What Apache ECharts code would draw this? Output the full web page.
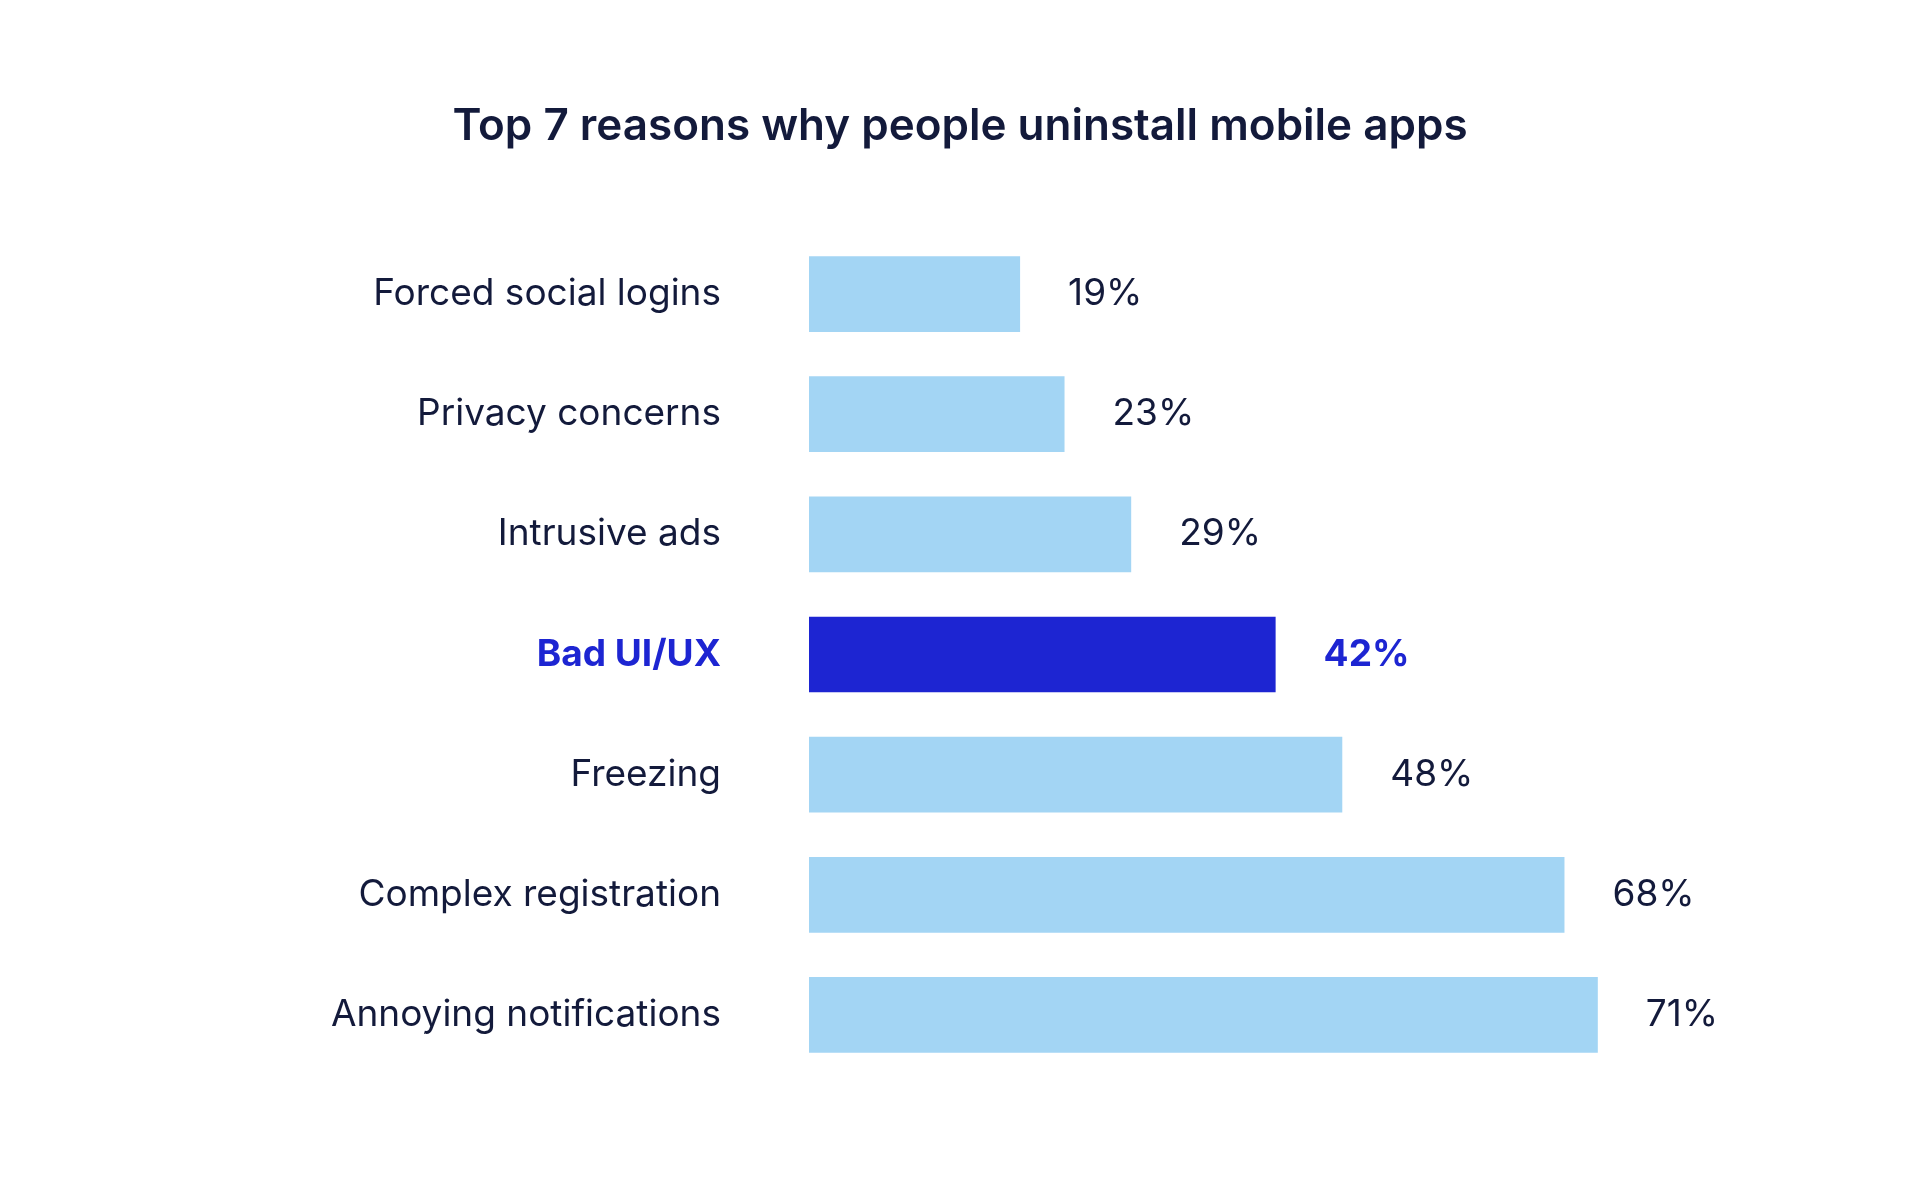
<!DOCTYPE html>
<html><head><meta charset="utf-8">
<script src="https://cdn.jsdelivr.net/npm/echarts@6/dist/echarts.min.js"></script>
<style>html,body{margin:0;padding:0;background:#fff}#c{width:1920px;height:1198px}</style>
</head><body><div id="c"></div>
<script>
const categories = ["Forced social logins","Privacy concerns","Intrusive ads","Bad UI/UX","Freezing","Complex registration","Annoying notifications"];
const values = [19,23,29,42,48,68,71];
const highlight = "Bad UI/UX";
const light = "#a3d5f4", dark = "#1d25d2", textC = "#131a3b";
const chart = echarts.init(document.getElementById('c'));
chart.setOption({
  backgroundColor:'#fff',
  title:{text:'Top 7 reasons why people uninstall mobile apps',left:'center',top:100,
    textStyle:{fontFamily:'Inter',fontSize:44,fontWeight:600,color:textC}},
  grid:{left:809,top:234,width:1140,height:841},
  xAxis:{type:'value',min:0,max:100,show:false},
  yAxis:{type:'category',inverse:true,data:categories,
    axisLine:{show:false},axisTick:{show:false},
    axisLabel:{margin:88,fontFamily:'Inter',fontSize:37,color:textC,
      formatter:v=>v===highlight?'{b|'+v+'}':v,
      rich:{b:{fontFamily:'Inter',fontSize:37,fontWeight:700,color:dark}}}},
  series:[{type:'bar',barWidth:'63%',
    data:values.map((v,i)=>({value:v,itemStyle:{color:categories[i]===highlight?dark:light},
      label:{color:categories[i]===highlight?dark:textC,fontWeight:categories[i]===highlight?700:400}})),
    label:{show:true,position:'right',distance:48,fontFamily:'Inter',fontSize:37,formatter:'{c}%'}}]
});
</script></body></html>
